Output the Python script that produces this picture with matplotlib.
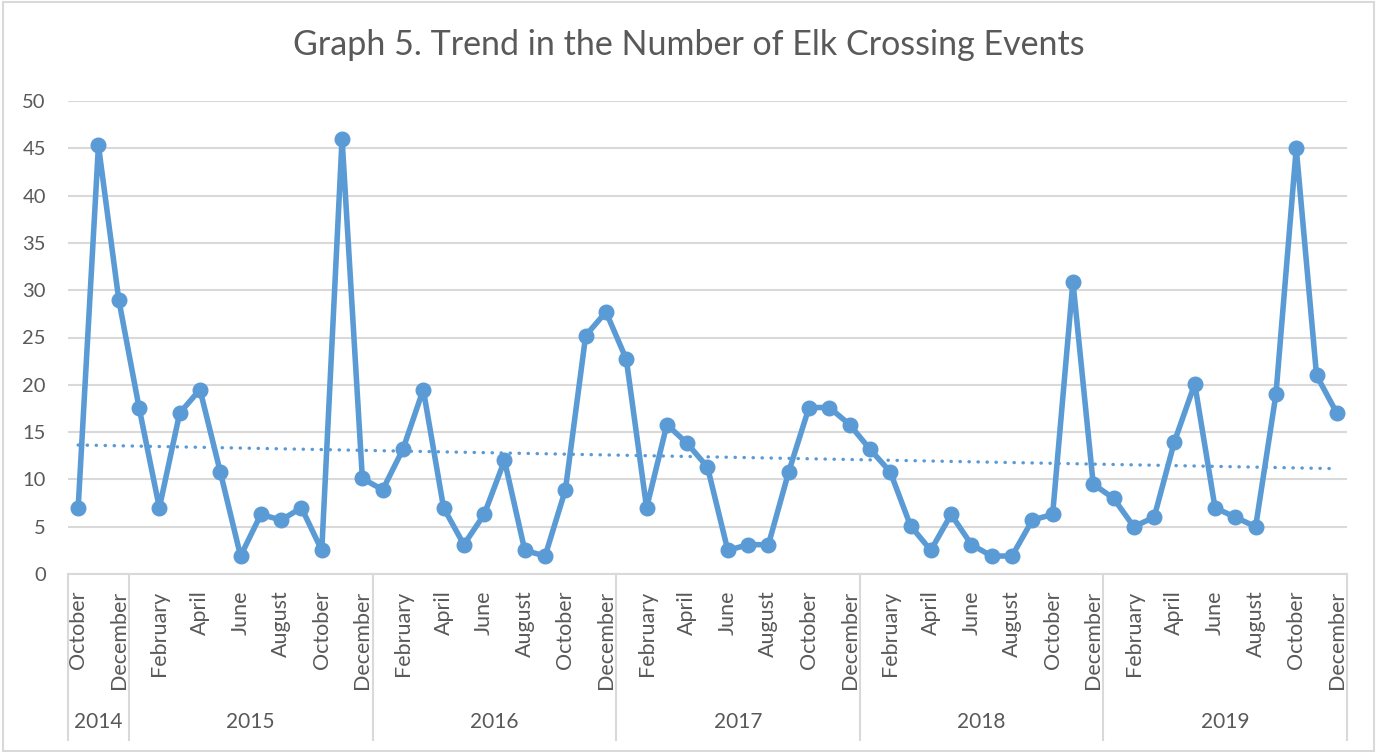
import matplotlib
matplotlib.use("Agg")
import matplotlib.pyplot as plt
import matplotlib.transforms as mtransforms
from matplotlib.patches import Rectangle
import numpy as np

plt.rcParams['font.family'] = ['Lato', 'DejaVu Sans']

month_names = ["January", "February", "March", "April", "May", "June", "July",
               "August", "September", "October", "November", "December"]
years = ["2014", "2015", "2016", "2017", "2018", "2019"]
months_per_year = [3, 12, 12, 12, 12, 12]
months = ["October", "November", "December"] + month_names * 5

values = [7.0, 45.3, 29.0,
          17.6, 7.0, 17.0, 19.5, 10.8, 1.9, 6.3, 5.7, 7.0, 2.5, 46.0, 10.1,
          8.9, 13.2, 19.5, 7.0, 3.1, 6.3, 12.0, 2.5, 1.9, 8.9, 25.2, 27.7,
          22.7, 7.0, 15.8, 13.8, 11.3, 2.5, 3.1, 3.1, 10.8, 17.6, 17.6, 15.8,
          13.2, 10.8, 5.1, 2.5, 6.3, 3.1, 1.9, 1.9, 5.7, 6.3, 30.9, 9.5,
          8.0, 5.0, 6.0, 14.0, 20.1, 7.0, 6.0, 5.0, 19.0, 45.0, 21.0, 17.0]

title = "Graph 5. Trend in the Number of Elk Crossing Events"
line_color = "#5B9BD5"
text_color = "#595959"
grid_color = "#D9D9D9"

W, H = 1377, 752
fig = plt.figure(figsize=(W / 100, H / 100), dpi=100)
fig.patch.set_facecolor("white")
left, right, top, bottom = 68, 1347, 101, 574
ax = fig.add_axes([left / W, 1 - bottom / H, (right - left) / W, (bottom - top) / H])

x = np.arange(len(values))
ax.plot(x, values, color=line_color, lw=4.0, marker="o", markersize=10.5,
        solid_joinstyle="round", solid_capstyle="round", zorder=3, clip_on=False)

coef = np.polyfit(x, values, 1)
ax.plot(x, np.polyval(coef, x), color=line_color, lw=2.4, ls=(0, (0.1, 2.6)),
        dash_capstyle="round", zorder=2)

ax.set_xlim(-0.5, len(values) - 0.5)
ax.set_ylim(0, 50)
ax.set_yticks(range(0, 51, 5))
ax.yaxis.grid(True, color=grid_color, lw=1.5)
ax.set_axisbelow(True)
for s in ["top", "right", "left"]:
    ax.spines[s].set_visible(False)
ax.spines["bottom"].set_color(grid_color)
ax.spines["bottom"].set_linewidth(1.5)
ax.tick_params(axis="y", length=0, pad=16, labelsize=14.5, labelcolor=text_color)

tick_idx = list(range(0, len(values), 2))
ax.set_xticks(tick_idx)
ax.set_xticklabels([months[i] for i in tick_idx], rotation=90, va="top", ha="center")
ax.tick_params(axis="x", length=0, pad=12, labelsize=15.5, labelcolor=text_color)

trans = mtransforms.blended_transform_factory(ax.transData, ax.transAxes)
y_sep = -(740 - bottom) / (bottom - top)
y_year = -(722 - bottom) / (bottom - top)
bounds = np.concatenate([[0], np.cumsum(months_per_year)]) - 0.5
for b in bounds:
    ax.plot([b, b], [0, y_sep], transform=trans, color=grid_color, lw=1.5, clip_on=False)
for i, yr in enumerate(years):
    c = (bounds[i] + bounds[i + 1]) / 2
    ax.text(c, y_year, yr, transform=trans, ha="center", va="center",
            fontsize=15, color=text_color)

fig.text(0.5, 1 - 45 / H, title, ha="center", va="center", fontsize=24.5, color=text_color)

fig.patches.append(Rectangle((3 / W, 1 / H), 1 - 6 / W, 1 - 3 / H, transform=fig.transFigure,
                             fill=False, edgecolor=grid_color, lw=1.5))

fig.savefig("out.png", dpi=100)
